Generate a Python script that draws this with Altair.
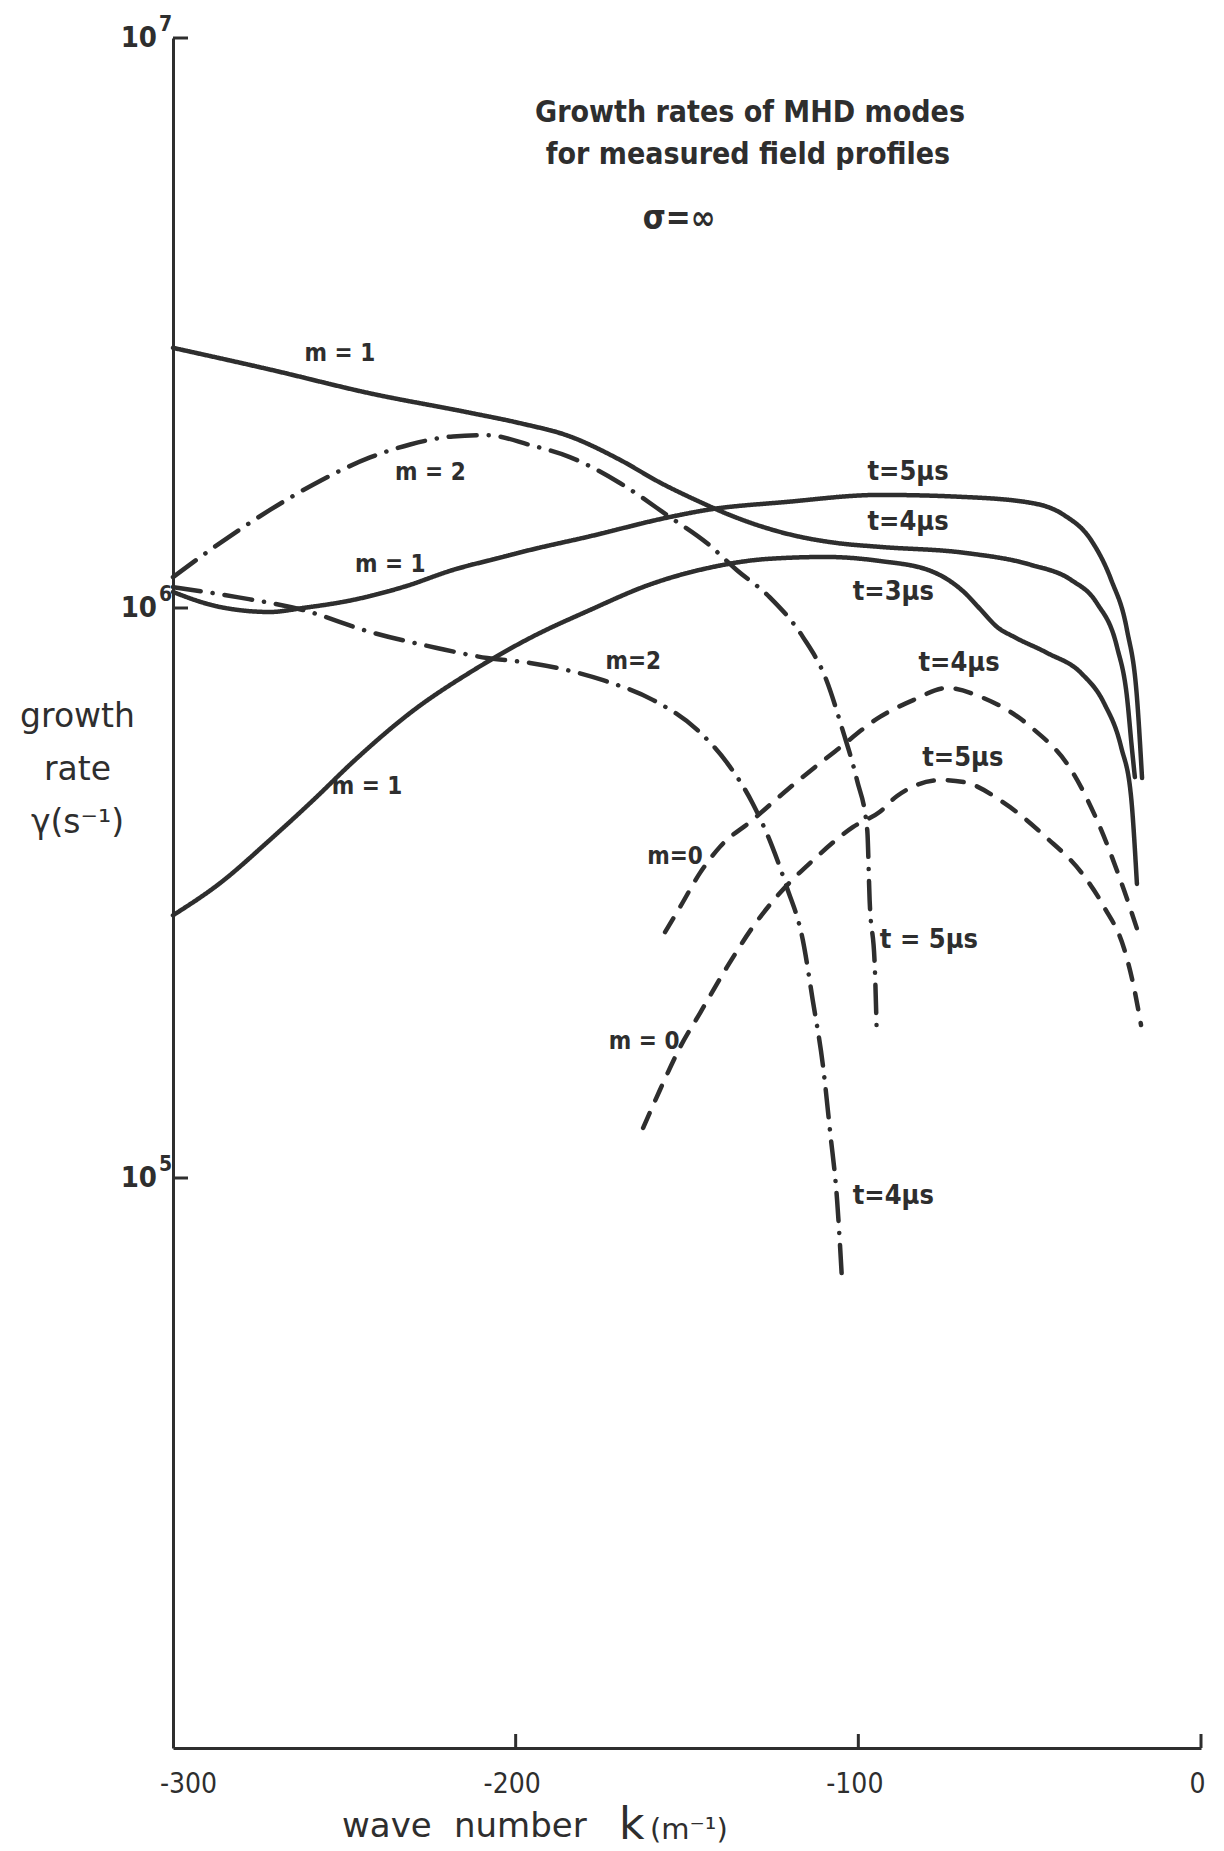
import altair as alt
import pandas as pd

FONT = "'DejaVu Sans Condensed', 'DejaVu Sans', sans-serif"
WIDE_FONT = "'DejaVu Sans', sans-serif"
INK = "#2e2e2e"

# ---------------------------------------------------------------
# Growth rate gamma (s^-1) against wave number k (m^-1)
# ---------------------------------------------------------------
# m = 1 (solid), continuing into the t = 4 us branch
k_m1_t4 = [-300, -271.7, -242.5, -213.3, -198.8, -184.2, -169.6, -157.9, -145.7,
           -138.0, -120.9, -106.2, -93.7, -69.2, -49.6, -37.9, -30.4, -24.5,
           -21.6, -20.2, -19.3]
g_m1_t4 = [2.86e6, 2.62e6, 2.38e6, 2.20e6, 2.11e6, 2.00e6, 1.82e6, 1.66e6, 1.53e6,
           1.46e6, 1.35e6, 1.30e6, 1.28e6, 1.25e6, 1.19e6, 1.12e6, 1.02e6, 8.54e5,
           6.98e5, 5.70e5, 5.05e5]

# m = 1 (solid), continuing into the t = 5 us branch
k_m1_t5 = [-300, -286.3, -271.7, -262.1, -247.5, -232.9, -218.3, -203.7, -195.8,
           -179.2, -155.0, -144.2, -120.9, -93.7, -69.2, -49.6, -40.0, -32.1, -26.2,
           -21.6, -18.7, -17.2]
g_m1_t5 = [1.067e6, 1.004e6, 9.84e5, 1.0e6, 1.033e6, 1.088e6, 1.166e6, 1.229e6, 1.264e6,
           1.332e6, 1.444e6, 1.486e6, 1.535e6, 1.579e6, 1.566e6, 1.529e6, 1.456e6,
           1.316e6, 1.120e6, 9.15e5, 6.98e5, 5.03e5]

# m = 1 (solid), continuing into the t = 3 us branch
k_m1_t3 = [-300, -286.3, -271.7, -259.1, -247.2, -230.0, -212.7, -195.8, -178.3,
           -161.1, -143.9, -126.7, -109.4, -93.7, -78.8, -69.2, -64.2, -59.5, -54.6,
           -44.9, -35.0, -28.3, -23.3, -20.4, -18.7]
g_m1_t3 = [2.89e5, 3.29e5, 3.92e5, 4.60e5, 5.39e5, 6.60e5, 7.75e5, 8.86e5, 9.92e5,
           1.098e6, 1.175e6, 1.219e6, 1.229e6, 1.209e6, 1.161e6, 1.067e6, 9.92e5,
           9.26e5, 8.90e5, 8.34e5, 7.69e5, 6.81e5, 5.70e5, 4.66e5, 3.28e5]

# m = 2 (dash-dot), t = 5 us
k_m2_t5 = [-300, -286.3, -271.7, -257.1, -242.5, -230.8, -218.3, -208.3, -195.8,
           -184.2, -169.6, -155.0, -144.2, -135.5, -125.9, -116.2, -109.3, -104.6,
           -100.4, -97.4, -96.7, -95.2, -94.6]
g_m2_t5 = [1.133e6, 1.30e6, 1.486e6, 1.671e6, 1.837e6, 1.936e6, 2.00e6, 2.01e6,
           1.932e6, 1.840e6, 1.657e6, 1.444e6, 1.300e6, 1.166e6, 1.045e6, 8.90e5,
           7.47e5, 6.11e5, 4.99e5, 4.08e5, 3.07e5, 2.35e5, 1.77e5]

# m = 2 (dash-dot), t = 4 us
k_m2_t4 = [-300, -281.3, -262.1, -242.5, -223.0, -208.3, -195.8, -174.5, -160.0,
           -147.0, -138.3, -130.9, -125.1, -120.9, -116.2, -113.3, -110.3, -108.2,
           -106.2, -104.8]
g_m2_t4 = [1.088e6, 1.045e6, 9.92e5, 9.08e5, 8.51e5, 8.17e5, 8.01e5, 7.47e5, 6.90e5,
           6.11e5, 5.35e5, 4.55e5, 3.81e5, 3.24e5, 2.615e5, 2.05e5, 1.57e5, 1.20e5,
           9.15e4, 6.68e4]

# m = 0 (dashed), t = 4 us
k_m0_t4 = [-156.4, -152.0, -146.2, -140.4, -130.8, -120.9, -106.2, -93.7, -83.8,
           -74.1, -64.2, -49.6, -37.9, -30.4, -22.4, -18.1]
g_m0_t4 = [2.70e5, 2.99e5, 3.43e5, 3.81e5, 4.25e5, 4.79e5, 5.64e5, 6.44e5, 6.90e5,
           7.24e5, 6.98e5, 6.18e5, 5.20e5, 4.25e5, 3.19e5, 2.67e5]

# m = 0 (dashed), t = 5 us
k_m0_t5 = [-162.8, -157.9, -152.0, -146.2, -138.3, -130.8, -122.9, -113.2, -101.5,
           -93.7, -88.7, -75.9, -69.2, -57.5, -45.0, -35.0, -28.3, -22.4, -19.6, -17.5]
g_m0_t5 = [1.224e5, 1.427e5, 1.697e5, 1.947e5, 2.346e5, 2.756e5, 3.162e5, 3.61e5,
           4.13e5, 4.39e5, 4.68e5, 4.99e5, 4.95e5, 4.55e5, 3.95e5, 3.44e5, 2.99e5,
           2.52e5, 2.164e5, 1.855e5]

# curve annotations
label_text = ["m = 1", "m = 2", "m = 1", "m = 1", "m=2", "m=0", "m = 0",
              "t=5\u03bcs", "t=4\u03bcs", "t=3\u03bcs", "t=4\u03bcs", "t=5\u03bcs",
              "t = 5\u03bcs", "t=4\u03bcs"]
label_k = [-251.3, -224.9, -236.6, -243.4, -165.7, -153.5, -162.5,
           -85.5, -85.5, -89.8, -70.6, -69.5, -79.4, -89.8]
label_g = [2.79e6, 1.726e6, 1.19e6, 4.85e5, 8.04e5, 3.66e5, 1.732e5,
           1.733e6, 1.415e6, 1.067e6, 8.01e5, 5.46e5, 2.615e5, 9.30e4]
label_size = [24, 24, 24, 24, 24, 24, 24, 27, 27, 27, 27, 27, 27, 27]

# axis ticks
x_ticks = [-300, -200, -100, 0]
y_ticks = [1e5, 1e6, 1e7]
y_exponents = ["5", "6", "7"]


def curve_frame(name, ks, gs):
    return pd.DataFrame({"curve": name, "k": ks, "gamma": gs, "i": range(len(ks))})


solid = pd.concat([curve_frame("m1_t4", k_m1_t4, g_m1_t4),
                   curve_frame("m1_t5", k_m1_t5, g_m1_t5),
                   curve_frame("m1_t3", k_m1_t3, g_m1_t3)])
dashdot = pd.concat([curve_frame("m2_t5", k_m2_t5, g_m2_t5),
                     curve_frame("m2_t4", k_m2_t4, g_m2_t4)])
dashed = pd.concat([curve_frame("m0_t4", k_m0_t4, g_m0_t4),
                    curve_frame("m0_t5", k_m0_t5, g_m0_t5)])
labels = pd.DataFrame({"text": label_text, "k": label_k, "gamma": label_g,
                       "size": label_size})

W, H = 1028, 1710

x_scale = alt.Scale(domain=[-300, 0], nice=False, zero=False)
y_scale = alt.Scale(type="log", domain=[1e4, 1e7], nice=False)

x_axis = alt.Axis(values=x_ticks, ticks=False, grid=False,
                  labelExpr="datum.value == 0 ? '0' : '-' + format(-datum.value, 'd')",
                  labelOffset={"condition": {"test": "datum.value == -300", "value": 15},
                               "value": -4},
                  domainWidth=3, domainColor=INK, labelFont=FONT,
                  labelFontSize=28, labelColor=INK, labelPadding=22,
                  labelFlush=False, title=None)
y_axis = alt.Axis(values=y_ticks, labels=False, ticks=False, grid=False,
                  domainWidth=3, domainColor=INK,
                  title=["growth", "rate", "\u03b3(s\u207b\u00b9)"],
                  titleAngle=0, titleAlign="center", titleBaseline="alphabetic",
                  titleX=-96, titleY=688, titleLineHeight=53,
                  titleFont=WIDE_FONT, titleFontSize=33, titleFontWeight="normal",
                  titleColor=INK)

xenc = alt.X("k:Q", scale=x_scale, axis=x_axis)
yenc = alt.Y("gamma:Q", scale=y_scale, axis=y_axis)


def curves(df, dash):
    return alt.Chart(df).mark_line(
        color=INK, strokeWidth=4.5, strokeDash=dash, strokeCap="round",
        interpolate="monotone"
    ).encode(x=xenc, y=yenc, detail="curve:N", order="i:Q")


solid_layer = curves(solid, [1, 0])
dashed_layer = curves(dashed, [16, 14])
dashdot_layer = curves(dashdot, [28, 12, 0.1, 12])

label_layer = alt.Chart(labels).mark_text(
    font=FONT, fontWeight="bold", color=INK, align="center", baseline="middle"
).encode(x=xenc, y=yenc, text="text:N",
         size=alt.Size("size:Q", scale=None, legend=None))

# inward tick marks
ytick_df = pd.DataFrame({"gamma": y_ticks, "exp": y_exponents, "base": "10"})
xtick_df = pd.DataFrame({"k": x_ticks[1:]})

ytick_layer = alt.Chart(ytick_df).mark_rule(color=INK, strokeWidth=3).encode(
    y=yenc, x=alt.value(0), x2=alt.value(15))
xtick_layer = alt.Chart(xtick_df).mark_rule(color=INK, strokeWidth=3).encode(
    x=xenc, y=alt.value(H), y2=alt.value(H - 14))

# powers of ten on the gamma axis
ybase_layer = alt.Chart(ytick_df).mark_text(
    font=FONT, fontSize=29, color=INK, align="right", baseline="middle",
    fontWeight="bold"
).encode(y=yenc, x=alt.value(-16), text="base:N")
yexp_layer = alt.Chart(ytick_df).mark_text(
    font=FONT, fontSize=21, color=INK, align="left", baseline="middle",
    dy=-13, fontWeight="bold"
).encode(y=yenc, x=alt.value(-14), text="exp:N")


def note(text, x, y, size, weight="normal", align="center", font=FONT):
    return alt.Chart(pd.DataFrame({"t": [text]})).mark_text(
        font=font, fontSize=size, fontWeight=weight, color=INK,
        align=align, baseline="alphabetic"
    ).encode(text="t:N", x=alt.value(x), y=alt.value(y))


notes = [
    note("Growth rates of MHD modes", 577, 84, 30, "bold"),
    note("for measured field profiles", 575, 126, 30, "bold"),
    note("\u03c3=\u221e", 506, 191, 33, "bold"),
    note("wave", 169, 1799, 34, "normal", "left", WIDE_FONT),
    note("number", 281, 1799, 34, "normal", "left", WIDE_FONT),
    note("k", 446, 1801, 44, "normal", "left", WIDE_FONT),
    note("(m\u207b\u00b9)", 477, 1801, 29, "normal", "left", WIDE_FONT),
]

chart = alt.layer(
    solid_layer, dashed_layer, dashdot_layer, label_layer,
    ytick_layer, xtick_layer, ybase_layer, yexp_layer, *notes
).properties(
    width=W, height=H,
    padding={"left": 173, "top": 38, "right": 23, "bottom": 103},
    autosize=alt.AutoSizeParams(type="none"),
    background="white",
).configure_view(stroke=None)

chart.save("out.html", embed_options={"renderer": "svg", "actions": False})
